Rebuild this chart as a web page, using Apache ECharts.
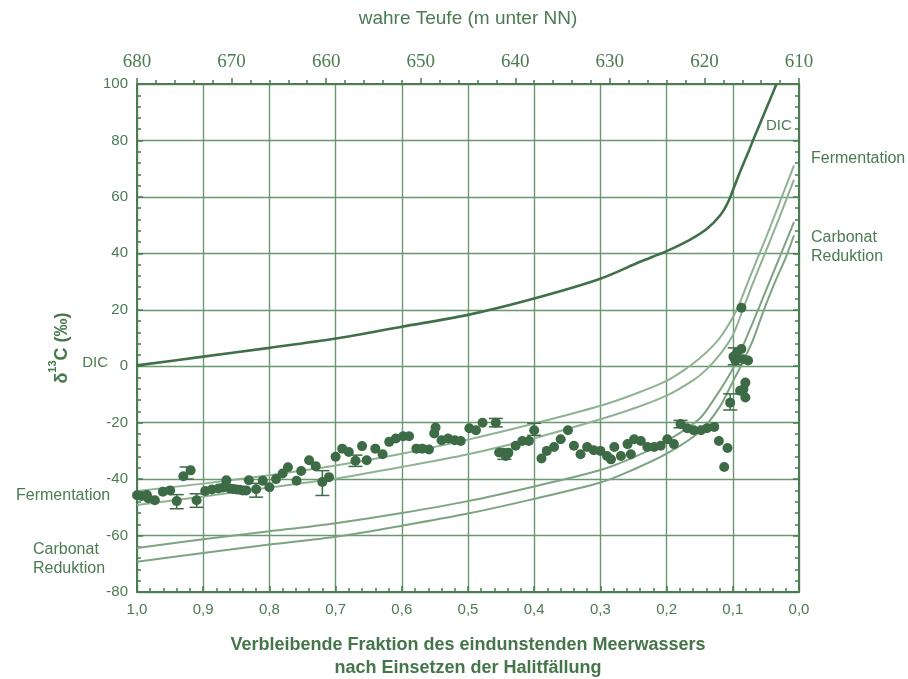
<!DOCTYPE html>
<html>
<head>
<meta charset="utf-8">
<script src="https://cdn.jsdelivr.net/npm/echarts@6/dist/echarts.min.js"></script>
<style>
html,body{margin:0;padding:0;background:#fff;}
#chart{width:908px;height:679px;}
</style>
</head>
<body>
<div id="chart"></div>
<script>
// ---- tick labels ----
const fracTicks = [1.0, 0.9, 0.8, 0.7, 0.6, 0.5, 0.4, 0.3, 0.2, 0.1, 0.0];
const depthTicks = [680, 670, 660, 650, 640, 630, 620, 610];
const deltaTicks = [-80, -60, -40, -20, 0, 20, 40, 60, 80, 100];

// ---- model curves [fraction, δ13C] ----
const dicCurve = [[1.0,0.3],[0.9,3.4],[0.8,6.5],[0.7,9.8],[0.6,14],[0.5,18.2],[0.4,24],[0.3,31],[0.24,37],[0.2,40.8],[0.165,44.8],[0.139,48.7],[0.119,53.5],[0.107,58.2],[0.098,63.5],[0.089,68.9],[0.077,75.6],[0.066,82],[0.056,87.6],[0.044,94.3],[0.034,100]];
const fermUpper = [[1.0,-44.2],[0.9,-41.6],[0.8,-38.6],[0.7,-35.2],[0.6,-31],[0.5,-26],[0.4,-20.3],[0.3,-14],[0.25,-10],[0.2,-5.2],[0.17,-0.8],[0.15,2.8],[0.13,7.2],[0.115,11.5],[0.094,20],[0.076,30.5],[0.05,45.5],[0.03,57.5],[0.0075,71.2]];
const fermLower = [[1.0,-49.2],[0.9,-46.2],[0.8,-43],[0.7,-39.8],[0.6,-35.7],[0.5,-31.2],[0.4,-25.5],[0.3,-18.8],[0.25,-15],[0.2,-10.4],[0.16,-5],[0.14,-1.2],[0.12,4],[0.1,11],[0.085,20],[0.069,29.8],[0.05,40.8],[0.03,52.5],[0.0075,66.1]];
const carbUpper = [[1.0,-64.4],[0.9,-61.3],[0.8,-58.5],[0.7,-55.6],[0.6,-52],[0.5,-47.8],[0.4,-42.6],[0.3,-36.8],[0.25,-32.3],[0.2,-26.5],[0.15,-18.5],[0.125,-10.5],[0.11,-5],[0.097,0.5],[0.08,9.8],[0.06,21],[0.04,32.5],[0.02,44],[0.0075,51.1]];
const carbLower = [[1.0,-69.3],[0.9,-66.2],[0.8,-63.2],[0.7,-60.4],[0.6,-56.5],[0.5,-52.2],[0.4,-47],[0.3,-41.2],[0.25,-36.6],[0.2,-31],[0.15,-23.2],[0.12,-14.5],[0.1,-5.5],[0.088,0],[0.07,9],[0.053,20],[0.035,30.5],[0.02,38.5],[0.0075,46.4]];

// ---- measured samples [fraction, δ13C] ----
const samples = [
 [1.0,-45.7],[0.993,-46],[0.985,-45.6],[0.983,-46.8],[0.973,-47.5],[0.961,-44.5],[0.95,-44],[0.94,-47.8],[0.93,-39],[0.919,-36.9],
 [0.91,-47.5],[0.897,-44.2],[0.887,-43.7],[0.877,-43.3],[0.87,-43],[0.865,-40.4],[0.86,-43.3],[0.855,-43.5],[0.85,-43.7],[0.845,-43.8],
 [0.84,-44],[0.835,-44],[0.831,-40.4],[0.82,-43.6],[0.81,-40.6],[0.80,-42.9],[0.79,-40],[0.78,-38],[0.772,-35.8],[0.759,-40.6],
 [0.752,-37.1],[0.74,-33.3],[0.73,-35.4],[0.72,-41],[0.71,-39.3],[0.70,-32.1],[0.69,-29.2],[0.68,-30.4],[0.67,-33.5],[0.66,-28.3],
 [0.653,-33.3],[0.64,-29.2],[0.629,-31.2],[0.619,-26.8],[0.609,-25.6],[0.598,-24.8],[0.589,-24.8],[0.578,-29.2],[0.569,-29.2],[0.559,-29.5],
 [0.549,-21.7],[0.551,-23.8],[0.54,-26.2],[0.53,-25.6],[0.52,-26.2],[0.511,-26.5],[0.498,-22],[0.488,-22.7],[0.478,-20],[0.458,-20],
 [0.453,-30.6],[0.447,-30.7],[0.443,-31.8],[0.439,-30.7],[0.428,-28.2],[0.418,-26.5],[0.408,-26.5],[0.40,-22.7],[0.389,-32.7],[0.381,-30],
 [0.37,-28.6],[0.36,-25.9],[0.349,-22.7],[0.34,-28.2],[0.33,-31.2],[0.32,-28.6],[0.31,-29.8],[0.30,-30],[0.29,-31.8],[0.284,-33],
 [0.279,-28.6],[0.269,-31.8],[0.259,-27.6],[0.254,-31.2],[0.249,-25.9],[0.239,-26.5],[0.229,-28.6],[0.219,-28.6],[0.209,-28.2],[0.199,-25.9],
 [0.189,-27.6],[0.179,-20.5],[0.169,-22],[0.159,-22.7],[0.148,-22.7],[0.139,-22],[0.128,-21.5],[0.121,-26.5],[0.108,-29],[0.113,-35.7],
 [0.104,-12.9],[0.087,20.7],[0.099,3.4],[0.0935,4.9],[0.087,6.1],[0.084,2.5],[0.077,2.0],[0.096,2.0],[0.081,-5.8],[0.084,-8.2],
 [0.089,-8.7],[0.081,-11.1]
];
// ---- error bars [fraction, low, high] ----
const errorBars = [
 [0.94,-50.5,-45.5],[0.91,-50,-45.2],[0.925,-40,-35.7],[0.82,-46.4,-41.5],[0.72,-45.8,-37],[0.67,-35.5,-31.5],
 [0.458,-21.5,-18.5],[0.40,-24.5,-20.2],[0.445,-33,-29.5],[0.104,-15.5,-9.8],[0.097,0.5,6.5],[0.179,-21.8,-19.2]
];

const GREEN = '#4a7b51';
const DARK = '#3d6b45';
const GRIDC = '#6a976f';
const AXC = '#4b7c52';
const FONT = 'Liberation Sans, Arial, sans-serif';

const chart = echarts.init(document.getElementById('chart'), null, {renderer:'canvas'});
const fmtFrac = v => v.toFixed(1).replace('.', ',');

chart.setOption({
  animation:false,
  backgroundColor:'#fff',
  grid:{left:137, right:109, top:84, bottom:87, containLabel:false, outerBoundsMode:'none'},
  xAxis:[{
    type:'value', position:'bottom', min:0, max:1, interval:0.1, inverse:true,
    axisLine:{show:true, onZero:false, lineStyle:{color:AXC, width:2}},
    axisTick:{show:true, inside:true, length:6, lineStyle:{color:AXC, width:1.5}},
    minorTick:{show:true, splitNumber:5, length:4, lineStyle:{color:AXC, width:1.5}},
    splitLine:{show:true, lineStyle:{color:GRIDC, width:1.4}},
    axisLabel:{color:GREEN, fontSize:15, fontFamily:FONT, margin:10, formatter:v=>fmtFrac(v)},
    name:'Verbleibende Fraktion des eindunstenden Meerwassers\nnach Einsetzen der Halitfällung',
    nameLocation:'middle', nameGap:42,
    nameTextStyle:{color:'#457649', fontSize:18, fontWeight:'bold', fontFamily:FONT, lineHeight:23}
  },{
    type:'value', position:'top', min:610, max:680, interval:10, inverse:true,
    axisLine:{show:true, onZero:false, lineStyle:{color:AXC, width:2}},
    axisTick:{show:true, inside:false, length:6, lineStyle:{color:AXC, width:1.5}},
    minorTick:{show:true, splitNumber:5, length:4, lineStyle:{color:AXC, width:1.5}},
    splitLine:{show:false},
    axisLabel:{color:GREEN, fontSize:19, fontFamily:'Liberation Serif, serif', margin:12},
    name:'wahre Teufe (m unter NN)', nameLocation:'middle', nameGap:56,
    nameTextStyle:{color:GREEN, fontSize:19, fontFamily:FONT}
  }],
  yAxis:[{
    type:'value', position:'left', min:-80, max:100, interval:20,
    axisLine:{show:true, onZero:false, lineStyle:{color:AXC, width:2}},
    axisTick:{show:true, inside:true, length:6, lineStyle:{color:AXC, width:1.5}},
    minorTick:{show:true, splitNumber:5, length:4, lineStyle:{color:AXC, width:1.5}},
    splitLine:{show:true, lineStyle:{color:GRIDC, width:1.4}},
    axisLabel:{color:GREEN, fontSize:15, fontFamily:FONT, margin:9}
  },{
    type:'value', position:'right', min:-80, max:100, interval:20,
    axisLine:{show:true, onZero:false, lineStyle:{color:AXC, width:2}},
    axisTick:{show:true, inside:true, length:6, lineStyle:{color:AXC, width:1.5}},
    minorTick:{show:true, splitNumber:5, length:4, lineStyle:{color:AXC, width:1.5}},
    splitLine:{show:false},
    axisLabel:{show:false}
  }],
  graphic:[
    {type:'text', x:59, y:348, rotation:Math.PI/2,
     style:{text:'{b|δ}{s|13}{b|C (‰)}', align:'center', verticalAlign:'middle',
       rich:{b:{fontSize:18, fontWeight:'bold', fontFamily:FONT, fill:'#457649', lineHeight:24, verticalAlign:'bottom'},
             s:{fontSize:11, fontWeight:'bold', fontFamily:FONT, fill:'#457649', lineHeight:24, verticalAlign:'top'}}}},
    {type:'text', x:108, y:363, style:{text:'DIC', font:'15px '+FONT, fill:GREEN, align:'right', verticalAlign:'middle'}},
    {type:'text', x:16, y:496, style:{text:'Fermentation', font:'16px '+FONT, fill:GREEN, align:'left', verticalAlign:'middle'}},
    {type:'text', x:33, y:559, style:{text:'Carbonat\nReduktion', font:'16px '+FONT, lineHeight:19, fill:GREEN, align:'left', verticalAlign:'middle'}},
    {type:'text', x:811, y:159, style:{text:'Fermentation', font:'16px '+FONT, fill:GREEN, align:'left', verticalAlign:'middle'}},
    {type:'text', x:811, y:247, style:{text:'Carbonat\nReduktion', font:'16px '+FONT, lineHeight:19, fill:GREEN, align:'left', verticalAlign:'middle'}},
    {type:'text', x:766, y:126, style:{text:'DIC', font:'15px '+FONT, fill:GREEN, align:'left', verticalAlign:'middle'}}
  ],
  series:[
    {type:'line', name:'Carbonat 1', data:carbUpper, showSymbol:false, smooth:0.3, lineStyle:{color:'#7ca480', width:2}, z:2},
    {type:'line', name:'Carbonat 2', data:carbLower, showSymbol:false, smooth:0.3, lineStyle:{color:'#7ca480', width:2}, z:2},
    {type:'line', name:'Fermentation 1', data:fermUpper, showSymbol:false, smooth:0.3, lineStyle:{color:'#8fb392', width:2}, z:2},
    {type:'line', name:'Fermentation 2', data:fermLower, showSymbol:false, smooth:0.3, lineStyle:{color:'#8fb392', width:2}, z:2},
    {type:'line', name:'DIC', data:dicCurve, showSymbol:false, smooth:0.3, lineStyle:{color:'#40704a', width:2.6}, z:3},
    {type:'custom', name:'Fehler', data:errorBars, encode:{x:0, y:[1,2]}, z:4,
     renderItem:(params, api) => {
       const x = api.value(0);
       const a = api.coord([x, api.value(1)]);
       const b = api.coord([x, api.value(2)]);
       const w = 7;
       const st = {stroke:DARK, lineWidth:1.5};
       return {type:'group', children:[
         {type:'line', shape:{x1:a[0], y1:a[1], x2:b[0], y2:b[1]}, style:st},
         {type:'line', shape:{x1:a[0]-w, y1:a[1], x2:a[0]+w, y2:a[1]}, style:st},
         {type:'line', shape:{x1:b[0]-w, y1:b[1], x2:b[0]+w, y2:b[1]}, style:st}
       ]};
     }},
    {type:'scatter', name:'Proben', data:samples, symbol:'circle', symbolSize:10, itemStyle:{color:DARK, opacity:1}, z:5}
  ]
});
</script>
</body>
</html>
